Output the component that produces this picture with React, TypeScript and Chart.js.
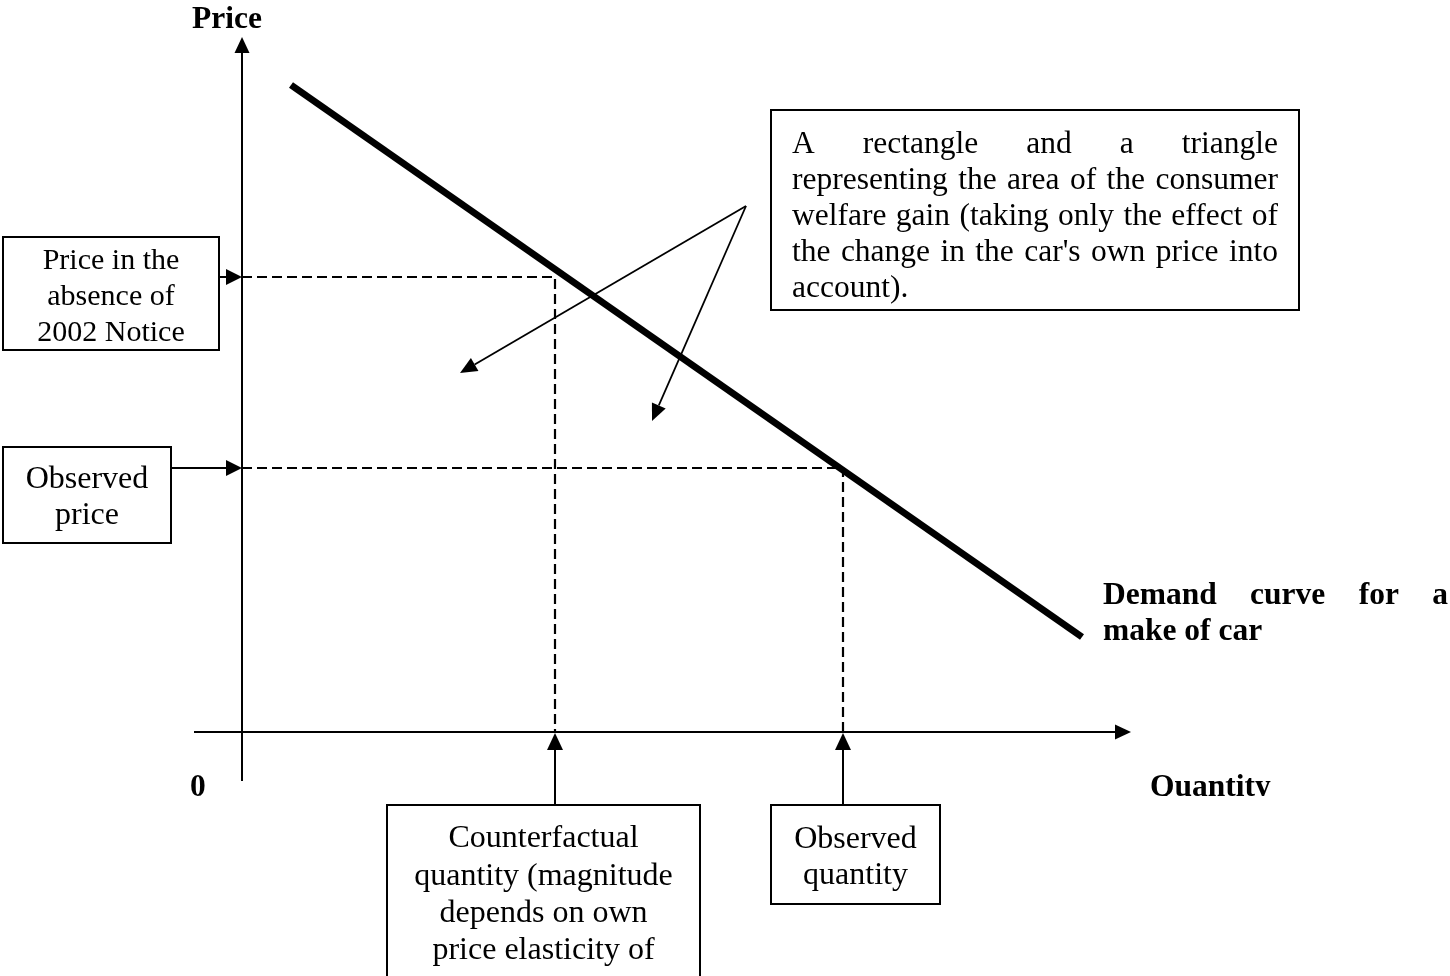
import React, { useEffect, useRef } from 'react';
import { Chart, registerables } from 'chart.js';

Chart.register(...registerables);

// ---- Data (quantity / price units, origin at the axes' intersection) ----
const demandQuantity = [49, 840];
const demandPrice = [647, 95];
const counterfactualQuantity = [313];
const observedQuantity = [601];
const priceWithoutNotice = [455];
const observedPrice = [264];
const quantityAxisRange = [-48, 889];
const priceAxisRange = [-49, 695];
const welfareArrowStart = [504, 526];
const welfareArrowTipsQ = [218, 410];
const welfareArrowTipsP = [359, 311];

const axisLabels = ['Price', '0', 'Quantity'];
const demandLabel = ['Demand curve for a', 'make of car'];
const welfareText = [
  'A rectangle and a triangle',
  'representing the area of the consumer',
  'welfare gain (taking only the effect of',
  "the change in the car's own price into",
  'account).',
];
const priceAbsenceText = ['Price in the', 'absence of', '2002 Notice'];
const observedPriceText = ['Observed', 'price'];
const counterfactualText = ['Counterfactual', 'quantity (magnitude', 'depends on own', 'price elasticity of'];
const observedQuantityText = ['Observed', 'quantity'];

const SERIF = '"Liberation Serif", "Times New Roman", serif';

type Box = { x0: number; y0: number; x1: number; y1: number; lines: string[]; baselines: number[]; size: number };

const smallBoxes: Box[] = [
  { x0: 3, y0: 237, x1: 219, y1: 350, lines: priceAbsenceText, baselines: [269, 305, 341], size: 30 },
  { x0: 3, y0: 447, x1: 171, y1: 543, lines: observedPriceText, baselines: [488, 524], size: 32 },
  { x0: 387, y0: 805, x1: 700, y1: 980, lines: counterfactualText, baselines: [847, 885, 922, 959], size: 32 },
  { x0: 771, y0: 805, x1: 940, y1: 904, lines: observedQuantityText, baselines: [848, 884], size: 32 },
];

function arrow(ctx: CanvasRenderingContext2D, x0: number, y0: number, x1: number, y1: number, len: number, half: number, lw: number) {
  const ang = Math.atan2(y1 - y0, x1 - x0);
  const bx = x1 - len * Math.cos(ang);
  const by = y1 - len * Math.sin(ang);
  ctx.save();
  ctx.strokeStyle = '#000';
  ctx.fillStyle = '#000';
  ctx.lineWidth = lw;
  ctx.beginPath();
  ctx.moveTo(x0, y0);
  ctx.lineTo(bx, by);
  ctx.stroke();
  ctx.beginPath();
  ctx.moveTo(x1, y1);
  ctx.lineTo(bx + half * Math.sin(ang), by - half * Math.cos(ang));
  ctx.lineTo(bx - half * Math.sin(ang), by + half * Math.cos(ang));
  ctx.closePath();
  ctx.fill();
  ctx.restore();
}

function justify(ctx: CanvasRenderingContext2D, text: string, left: number, right: number, y: number) {
  const words = text.split(' ');
  if (words.length < 2) {
    ctx.fillText(text, left, y);
    return;
  }
  const widths = words.map((w) => ctx.measureText(w).width);
  const total = widths.reduce((a, b) => a + b, 0);
  const gap = (right - left - total) / (words.length - 1);
  let x = left;
  words.forEach((w, i) => {
    ctx.fillText(w, x, y);
    x += widths[i] + gap;
  });
}

const diagramPlugin = {
  id: 'diagram',
  afterDatasetsDraw(chart: any) {
    const ctx: CanvasRenderingContext2D = chart.ctx;
    const xs = chart.scales.x;
    const ys = chart.scales.y;
    const px = (v: number) => xs.getPixelForValue(v);
    const py = (v: number) => ys.getPixelForValue(v);
    const ox = px(0);
    const oy = py(0);

    // axis arrowheads
    arrow(ctx, ox, py(priceAxisRange[1]) + 16, ox, py(priceAxisRange[1]), 16, 7.5, 2);
    arrow(ctx, px(quantityAxisRange[1]) - 16, oy, px(quantityAxisRange[1]), oy, 16, 7.5, 2);

    // boxes
    ctx.save();
    ctx.strokeStyle = '#000';
    ctx.lineWidth = 2;
    ctx.fillStyle = '#000';
    ctx.textAlign = 'center';
    ctx.textBaseline = 'alphabetic';
    smallBoxes.forEach((b) => {
      ctx.strokeRect(b.x0, b.y0, b.x1 - b.x0, b.y1 - b.y0);
      ctx.font = `${b.size}px ${SERIF}`;
      const cx = (b.x0 + b.x1) / 2;
      b.lines.forEach((l, i) => ctx.fillText(l, cx, b.baselines[i]));
    });
    // welfare box
    ctx.strokeRect(771, 110, 528, 200);
    ctx.font = `31.5px ${SERIF}`;
    ctx.textAlign = 'left';
    const wb = [153, 189, 225, 261, 297];
    welfareText.forEach((l, i) => {
      if (i === welfareText.length - 1) ctx.fillText(l, 792, wb[i]);
      else justify(ctx, l, 792, 1278, wb[i]);
    });

    // bold labels
    ctx.font = `bold 31.5px ${SERIF}`;
    ctx.fillText(axisLabels[0], 192, 28);
    ctx.save();
    ctx.beginPath();
    ctx.rect(0, 0, 1450, 796);
    ctx.clip();
    ctx.fillText(axisLabels[1], 190, 796);
    ctx.fillText(axisLabels[2], 1150, 796);
    ctx.restore();
    ctx.font = `bold 31.5px ${SERIF}`;
    justify(ctx, demandLabel[0], 1103, 1448, 604);
    ctx.fillText(demandLabel[1], 1103, 640);
    ctx.restore();

    // arrows from boxes to axes
    arrow(ctx, 219, py(priceWithoutNotice[0]), ox, py(priceWithoutNotice[0]), 16, 8, 2);
    arrow(ctx, 171, py(observedPrice[0]), ox, py(observedPrice[0]), 16, 8, 2);
    arrow(ctx, px(counterfactualQuantity[0]), 805, px(counterfactualQuantity[0]), oy + 1, 17, 8, 2);
    arrow(ctx, px(observedQuantity[0]), 805, px(observedQuantity[0]), oy + 1, 17, 8, 2);

    // arrows from the welfare box into the areas
    for (let i = 0; i < welfareArrowTipsQ.length; i++) {
      arrow(
        ctx,
        px(welfareArrowStart[0]),
        py(welfareArrowStart[1]),
        px(welfareArrowTipsQ[i]),
        py(welfareArrowTipsP[i]),
        17,
        7.5,
        1.8
      );
    }
  },
};

export default function App() {
  const ref = useRef<HTMLCanvasElement | null>(null);
  useEffect(() => {
    if (!ref.current) return;
    const black = '#000';
    const dashed = [10, 5];
    const line = (data: { x: number; y: number }[], width: number, dash: number[] = []) => ({
      data,
      borderColor: black,
      borderWidth: width,
      borderDash: dash,
      borderCapStyle: 'butt' as const,
      pointRadius: 0,
      fill: false,
      tension: 0,
    });
    const chart = new Chart(ref.current, {
      type: 'line',
      data: {
        datasets: [
          line([{ x: 0, y: priceWithoutNotice[0] }, { x: counterfactualQuantity[0], y: priceWithoutNotice[0] }, { x: counterfactualQuantity[0], y: 0 }], 2.2, dashed),
          line([{ x: 0, y: observedPrice[0] }, { x: observedQuantity[0], y: observedPrice[0] }, { x: observedQuantity[0], y: 0 }], 2.2, dashed),
          line([{ x: quantityAxisRange[0], y: 0 }, { x: quantityAxisRange[1] - 10, y: 0 }], 2),
          line([{ x: 0, y: priceAxisRange[0] }, { x: 0, y: priceAxisRange[1] - 10 }], 2),
          line(demandQuantity.map((q, i) => ({ x: q, y: demandPrice[i] })), 7),
        ],
      },
      options: {
        animation: false,
        responsive: false,
        devicePixelRatio: 1,
        layout: { padding: 0 },
        parsing: false as any,
        plugins: { legend: { display: false }, tooltip: { enabled: false } },
        scales: {
          x: { type: 'linear', min: -242, max: 1208, display: false },
          y: { type: 'linear', min: -244, max: 732, display: false },
        },
      },
      plugins: [diagramPlugin],
    });
    return () => chart.destroy();
  }, []);
  return (
    <div style={{ position: 'absolute', left: 0, top: 0, width: 1450, height: 976, background: '#fff' }}>
      <canvas ref={ref} width={1450} height={976} style={{ display: 'block', width: 1450, height: 976 }} />
    </div>
  );
}
